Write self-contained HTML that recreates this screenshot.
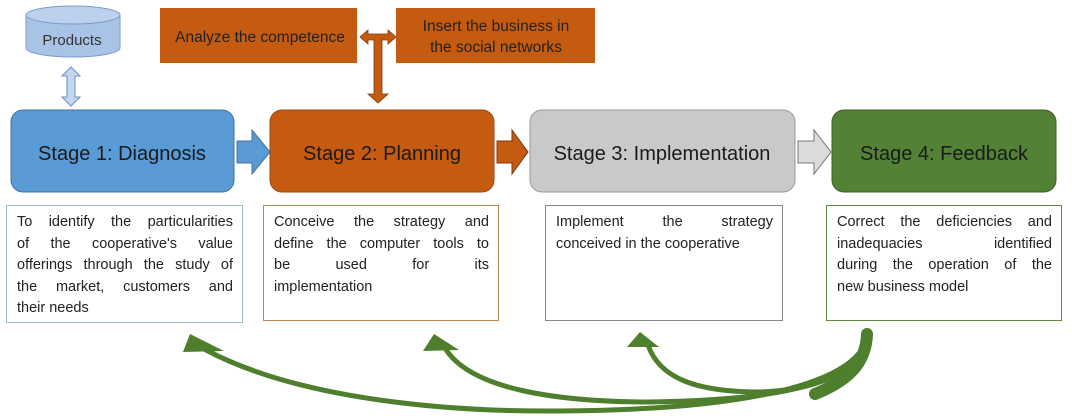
<!DOCTYPE html>
<html><head><meta charset="utf-8"><style>
body{margin:0;background:#fff;width:1072px;height:416px;overflow:hidden;font-family:"Liberation Sans",sans-serif}
.tb{position:absolute;background:#fff;font-size:14.5px;line-height:21.5px;color:#222;padding:6px 9px 4px 10px;box-sizing:border-box}
.tb span{display:block;text-align:justify;text-align-last:justify;white-space:nowrap}
.tb span.l{text-align-last:left}
</style></head><body>
<svg width="1072" height="416" style="position:absolute;left:0;top:0" font-family="Liberation Sans, sans-serif">
<path d="M26,15 L26,48 A47,9 0 0 0 120,48 L120,15" fill="#a9c3e6" stroke="#7b9cc9"/>
<ellipse cx="73" cy="15" rx="47" ry="9" fill="#bcd1ee" stroke="#7b9cc9"/>
<text x="72" y="45" font-size="15" text-anchor="middle" fill="#333">Products</text>
<polygon points="71,67 80,76 75,76 75,97 80,97 71,106 62,97 67,97 67,76 62,76" fill="#c5d6ef" stroke="#6d8fc2"/>
<rect x="160" y="8" width="197" height="55" fill="#c55a11"/>
<text x="260" y="42" font-size="15.5" text-anchor="middle" fill="#222">Analyze the competence</text>
<rect x="396" y="8" width="199" height="55" fill="#c55a11"/>
<text x="496" y="31" font-size="15.5" text-anchor="middle" fill="#222">Insert the business in</text>
<text x="496" y="52" font-size="15.5" text-anchor="middle" fill="#222">the social networks</text>
<polygon points="360,37 368,30 368,34 388,34 388,30 396,37 388,44 388,40 382,40 382,94 388,94 378,103 368,94 374,94 374,40 368,40 368,44" fill="#c55a11" stroke="#7a3a0a" stroke-width="0.8"/>
<rect x="11" y="110" width="223" height="82" rx="12" fill="#5b9bd5" stroke="#41719c"/>
<text x="122" y="160" font-size="20" text-anchor="middle" fill="#1a1a1a">Stage 1: Diagnosis</text>
<rect x="270" y="110" width="224" height="82" rx="12" fill="#c55a11" stroke="#9c4a10"/>
<text x="382" y="160" font-size="20" text-anchor="middle" fill="#1a1a1a">Stage 2: Planning</text>
<rect x="530" y="110" width="265" height="82" rx="12" fill="#c9c9c9" stroke="#999"/>
<text x="662" y="160" font-size="20" text-anchor="middle" fill="#1a1a1a">Stage 3: Implementation</text>
<rect x="832" y="110" width="224" height="82" rx="12" fill="#538135" stroke="#3d6027"/>
<text x="944" y="160" font-size="20" text-anchor="middle" fill="#1a1a1a">Stage 4: Feedback</text>
<polygon points="237,141 252,141 252,130 270,152 252,174 252,163 237,163" fill="#5b9bd5" stroke="#41719c"/>
<polygon points="497,141 512,141 512,130 528,152 512,174 512,163 497,163" fill="#c55a11" stroke="#7a3a0a"/>
<polygon points="798,141 814,141 814,130 831,152 814,174 814,163 798,163" fill="#dcdcdc" stroke="#777"/>
<g fill="none" stroke="#4e7f2c" stroke-linecap="round">
<path d="M206,350 C300,400 450,412 560,411 C720,410 860,390 868,334" stroke-width="5"/>
<path d="M445,348 C470,390 560,402 650,402 C780,400 860,385 867,334" stroke-width="5"/>
<path d="M648,345 C660,380 700,392 760,392 C820,390 862,370 868,334" stroke-width="5"/>
<path d="M867,334 C866,362 850,380 815,394" stroke-width="12"/>
</g>
<g fill="#4e7f2c">
<polygon points="190,334 183,352 224,351"/>
<polygon points="434,334 423,351 459,350"/>
<polygon points="640,332 627,347 659,347"/>
</g>
</svg>
<div class="tb" style="left:6px;top:205px;width:237px;height:118px;border:1px solid #9ab8c8"><span>To identify the particularities</span><span>of the cooperative's value</span><span>offerings through the study of</span><span>the market, customers and</span><span class="l">their needs</span></div>
<div class="tb" style="left:263px;top:205px;width:236px;height:116px;border:1px solid #b7874f"><span>Conceive the strategy and</span><span>define the computer tools to</span><span>be used for its</span><span class="l">implementation</span></div>
<div class="tb" style="left:545px;top:205px;width:238px;height:116px;border:1px solid #888"><span>Implement the strategy</span><span class="l">conceived in the cooperative</span></div>
<div class="tb" style="left:826px;top:205px;width:236px;height:116px;border:1px solid #5e8a45"><span>Correct the deficiencies and</span><span>inadequacies identified</span><span>during the operation of the</span><span class="l">new business model</span></div>
</body></html>
